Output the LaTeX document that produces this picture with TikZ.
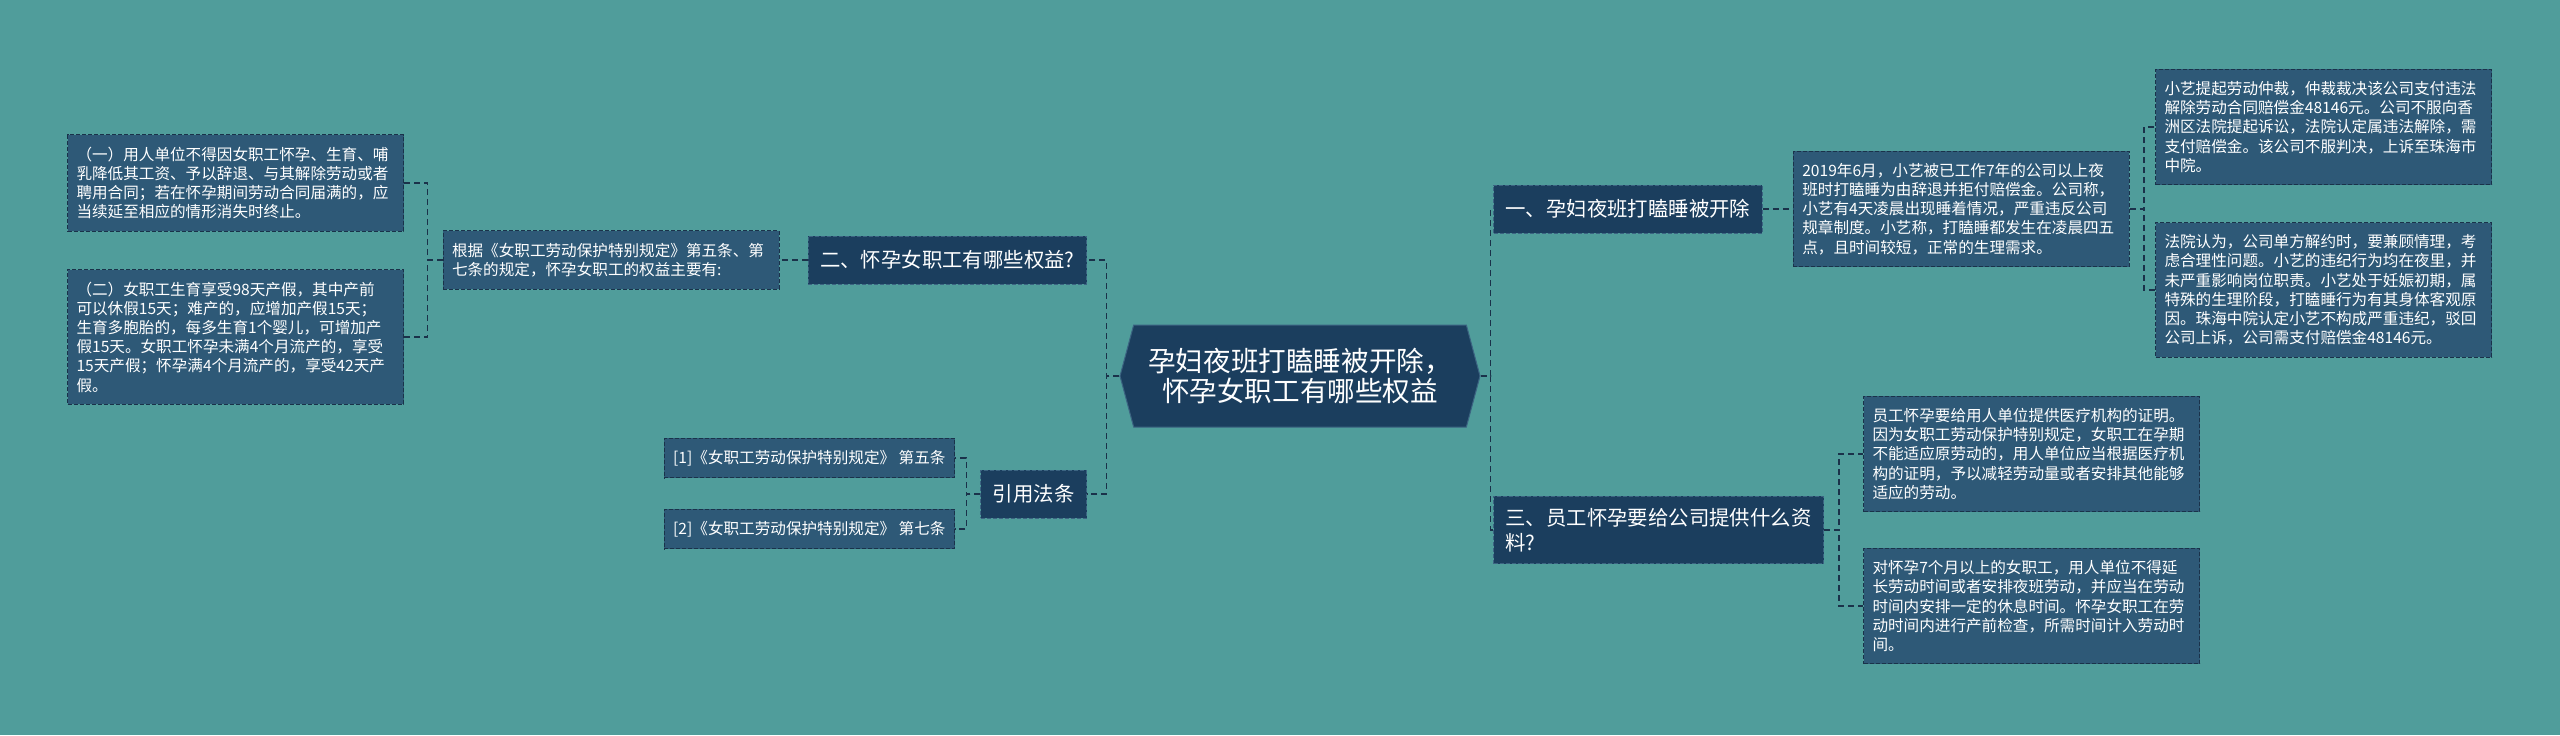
\documentclass[tikz,border=0pt]{standalone}
\usepackage{fontspec}
\setmainfont{Noto Sans CJK SC}
\usepackage{tikz}
\usetikzlibrary{positioning,shapes.symbols,calc}
\definecolor{bgteal}{RGB}{80,157,155}
\definecolor{leafblue}{RGB}{46,89,119}
\definecolor{topicblue}{RGB}{27,62,94}
\definecolor{edgeblue}{RGB}{26,50,74}
\definecolor{rimblue}{RGB}{60,100,130}

\begin{document}
\begin{tikzpicture}[x=0.5pt,y=-0.5pt,
  leaf/.style={draw=edgeblue,dash pattern=on 2pt off 1pt,line width=0.5pt,fill=leafblue,text=white,
    font=\fontsize{7.8}{9.6}\selectfont,inner xsep=4.5pt,inner ysep=6pt,align=left},
  note/.style={leaf,text width=159pt},
  topic/.style={draw=rimblue,dash pattern=on 2pt off 1pt,line width=0.5pt,fill=topicblue,text=white,
    font=\fontsize{10.2}{12.5}\selectfont,inner xsep=6pt,inner ysep=6pt,minimum height=24pt,align=left},
  link/.style={draw=edgeblue,line width=0.9pt,dash pattern=on 3pt off 2pt}]
\fill[bgteal] (0,0) rectangle (2560,735);

\node[shape=signal,signal to=west and east,signal pointer angle=150,fill=topicblue,draw=rimblue,line width=0.5pt,
  text=white,font=\fontsize{13.8}{15.2}\selectfont,align=center,inner xsep=2pt,minimum width=180pt,minimum height=51pt]
  (hub) at (1300,376) {孕妇夜班打瞌睡被开除，\\怀孕女职工有哪些权益};

% left side
\node[topic,anchor=east] (rights) at (1087,260) {二、怀孕女职工有哪些权益?};
\node[note,left=14pt of rights] (basis) {根据《女职工劳动保护特别规定》第五条、第\\七条的规定，怀孕女职工的权益主要有:};
\node[note,anchor=east] (item1) at (404,183) {（一）用人单位不得因女职工怀孕、生育、哺\\乳降低其工资、予以辞退、与其解除劳动或者\\聘用合同；若在怀孕期间劳动合同届满的，应\\当续延至相应的情形消失时终止。};
\node[note,anchor=east] (item2) at (404,337) {（二）女职工生育享受98天产假，其中产前\\可以休假15天；难产的，应增加产假15天；\\生育多胞胎的，每多生育1个婴儿，可增加产\\假15天。女职工怀孕未满4个月流产的，享受\\15天产假；怀孕满4个月流产的，享受42天产\\假。};

\node[topic,anchor=east] (cite) at (1087,494) {引用法条};
\node[leaf,anchor=east] (law1) at (955,458) {[1]《女职工劳动保护特别规定》 第五条};
\node[leaf,anchor=east] (law2) at (955,529) {[2]《女职工劳动保护特别规定》 第七条};

% right side
\node[topic,anchor=west] (fired) at (1493,209) {一、孕妇夜班打瞌睡被开除};
\node[note,right=15pt of fired] (story) {2019年6月，小艺被已工作7年的公司以上夜\\班时打瞌睡为由辞退并拒付赔偿金。公司称，\\小艺有4天凌晨出现睡着情况，严重违反公司\\规章制度。小艺称，打瞌睡都发生在凌晨四五\\点，且时间较短，正常的生理需求。};
\node[note,anchor=west] (arbit) at (2155,127) {小艺提起劳动仲裁，仲裁裁决该公司支付违法\\解除劳动合同赔偿金48146元。公司不服向香\\洲区法院提起诉讼，法院认定属违法解除，需\\支付赔偿金。该公司不服判决，上诉至珠海市\\中院。};
\node[note,anchor=west] (court) at (2155,290) {法院认为，公司单方解约时，要兼顾情理，考\\虑合理性问题。小艺的违纪行为均在夜里，并\\未严重影响岗位职责。小艺处于妊娠初期，属\\特殊的生理阶段，打瞌睡行为有其身体客观原\\因。珠海中院认定小艺不构成严重违纪，驳回\\公司上诉，公司需支付赔偿金48146元。};

\node[topic,anchor=west] (papers) at (1493,530) {三、员工怀孕要给公司提供什么资\\料?};
\node[note,anchor=west] (proof) at (1863,454) {员工怀孕要给用人单位提供医疗机构的证明。\\因为女职工劳动保护特别规定，女职工在孕期\\不能适应原劳动的，用人单位应当根据医疗机\\构的证明，予以减轻劳动量或者安排其他能够\\适应的劳动。};
\node[note,anchor=west] (night) at (1863,606) {对怀孕7个月以上的女职工，用人单位不得延\\长劳动时间或者安排夜班劳动，并应当在劳动\\时间内安排一定的休息时间。怀孕女职工在劳\\动时间内进行产前检查，所需时间计入劳动时\\间。};

% connectors
\draw[link] (hub.west) -- ++(-13,0) |- (rights.east);
\draw[link] (hub.west) -- ++(-13,0) |- (cite.east);
\draw[link] (hub.east) -- ++(10,0) |- (fired.west);
\draw[link] (hub.east) -- ++(10,0) |- (papers.west);
\draw[link] (rights.west) -- (basis.east);
\draw[link] (basis.west) -- ++(-15,0) |- (item1.east);
\draw[link] (basis.west) -- ++(-15,0) |- (item2.east);
\draw[link] (cite.west) -- ++(-14,0) |- (law1.east);
\draw[link] (cite.west) -- ++(-14,0) |- (law2.east);
\draw[link] (fired.east) -- (story.west);
\draw[link] (story.east) -- ++(14,0) |- (arbit.west);
\draw[link] (story.east) -- ++(14,0) |- (court.west);
\draw[link] (papers.east) -- ++(15,0) |- (proof.west);
\draw[link] (papers.east) -- ++(15,0) |- (night.west);
\end{tikzpicture}
\end{document}
